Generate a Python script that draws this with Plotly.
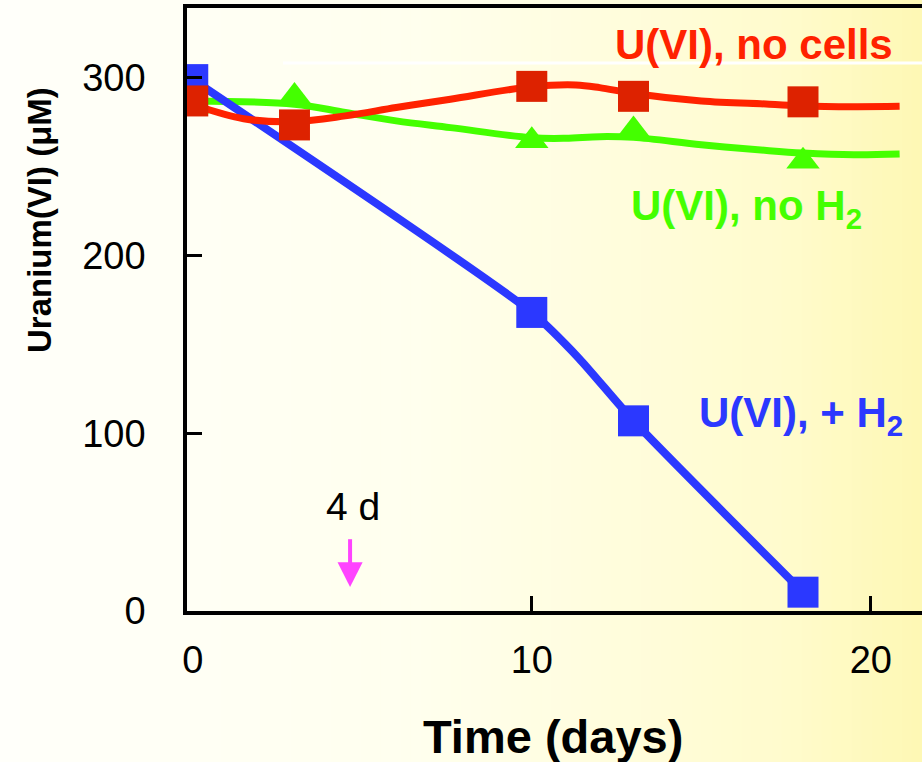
import plotly.graph_objects as go

# ---------------- data ----------------
days_h2 = [0, 10, 13, 18]
u_h2 = [299, 168, 107, 10.6]

days_nocells = [0, 3, 10, 13, 18]
u_nocells = [287, 273.5, 295.2, 289.6, 286.5]

days_noh2 = [0, 3, 10, 13, 18]
u_noh2 = [284, 289.5, 264.6, 270.6, 253]

# fitted curves as drawn in the picture
fit_h2_x = [0, 10, 11.4, 13, 18]
fit_h2_y = [299, 168, 142, 107, 10.6]

fit_nocells_x = [0.12, 1.5, 3, 4.5, 6, 7.6, 10, 11.3, 12, 13, 15, 17, 18, 19.5, 20.85]
fit_nocells_y = [284.3, 277, 275.4, 278.6, 283.3, 288, 295, 296.0, 294.5, 291.2, 287, 285.2, 284.2, 283.8, 284.0]

fit_noh2_x = [0, 3, 4.5, 6, 7.6, 10, 11, 12, 13, 15, 17, 18, 19.5, 20.85]
fit_noh2_y = [287, 285.2, 280.5, 275.8, 272, 266.3, 266, 266.9, 266.5, 262.4, 259, 257.7, 256.7, 257.1]

x_ticks = [0, 10, 20]
x_tick_marks = [10, 20]
y_ticks = [0, 100, 200, 300]

FONT = "Liberation Sans, Arial, Helvetica, sans-serif"
RED_LINE = "#ff2200"
RED_MK = "#dd2200"
GREEN = "#44ff00"
BLUE = "#2b38ff"
MAGENTA = "#ff44ff"

W, H = 922, 762
ML, MR, MT, MB = 187, 0, 8, 151
PW, PH = W - ML - MR, H - MT - MB

fig = go.Figure()

# green (bottom)
fig.add_trace(go.Scatter(x=fit_noh2_x, y=fit_noh2_y, mode="lines",
                         line=dict(color=GREEN, width=7, shape="spline", smoothing=1),
                         hoverinfo="skip", showlegend=False))
fig.add_trace(go.Scatter(x=days_noh2, y=u_noh2, mode="markers",
                         marker=dict(symbol="triangle-up", size=29, color=GREEN, line=dict(width=0)),
                         showlegend=False))
# blue
fig.add_trace(go.Scatter(x=fit_h2_x, y=fit_h2_y, mode="lines",
                         line=dict(color=BLUE, width=8, shape="spline", smoothing=0.6),
                         hoverinfo="skip", showlegend=False))
fig.add_trace(go.Scatter(x=days_h2, y=u_h2, mode="markers",
                         marker=dict(symbol="square", size=31, color=BLUE, line=dict(width=0)),
                         showlegend=False))
# red (top)
fig.add_trace(go.Scatter(x=fit_nocells_x, y=fit_nocells_y, mode="lines",
                         line=dict(color=RED_LINE, width=7, shape="spline", smoothing=1),
                         hoverinfo="skip", showlegend=False))
fig.add_trace(go.Scatter(x=days_nocells, y=u_nocells, mode="markers",
                         marker=dict(symbol="square", size=31, color=RED_MK, line=dict(width=0)),
                         showlegend=False))

# background gradient (horizontal, white -> pale yellow)
stops = [(0.0, (255, 255, 250)), (0.45, (255, 255, 238)), (0.65, (255, 253, 222)),
         (0.85, (255, 251, 205)), (1.0, (254, 248, 180))]

def col_at(t):
    for (t0, c0), (t1, c1) in zip(stops[:-1], stops[1:]):
        if t <= t1:
            f = (t - t0) / (t1 - t0)
            return "rgb(%d,%d,%d)" % tuple(round(a + (b - a) * f) for a, b in zip(c0, c1))
    return "rgb(%d,%d,%d)" % stops[-1][1]

shapes = []
N = 92
for i in range(N):
    px0 = i * W / N
    px1 = (i + 1) * W / N + 1
    shapes.append(dict(type="rect", xref="paper", yref="paper",
                       x0=(px0 - ML) / PW, x1=(px1 - ML) / PW,
                       y0=-MB / PH - 0.01, y1=1 + MT / PH + 0.01,
                       fillcolor=col_at((i + 0.5) / N), line=dict(width=0), layer="below"))
# faint white line in the picture
shapes.append(dict(type="line", xref="x", yref="y", x0=2.66, x1=22, y0=308.4, y1=308.4,
                   line=dict(color="white", width=3), layer="below"))
# magenta arrow at 4 d
shapes.append(dict(type="line", xref="x", yref="y", x0=4.64, x1=4.64, y0=40.4, y1=27,
                   line=dict(color=MAGENTA, width=4)))
shapes.append(dict(type="path", xref="x", yref="y",
                   path="M 4.27 27.5 L 5.01 27.5 L 4.64 13.5 Z",
                   fillcolor=MAGENTA, line=dict(width=0)))

annotations = [
    dict(x=16.56, y=319, xref="x", yref="y", text="U(VI), no cells", showarrow=False,
         font=dict(family=FONT, size=42, color=RED_LINE, weight="bold"), xanchor="center", yanchor="middle"),
    dict(x=16.33, y=226.5, xref="x", yref="y", text="U(VI), no H<sub>2</sub>", showarrow=False,
         font=dict(family=FONT, size=42, color=GREEN, weight="bold"), xanchor="center", yanchor="middle"),
    dict(x=17.95, y=110, xref="x", yref="y", text="U(VI), + H<sub>2</sub>", showarrow=False,
         font=dict(family=FONT, size=42, color=BLUE, weight="bold"), xanchor="center", yanchor="middle"),
    dict(x=4.74, y=59, xref="x", yref="y", text="4 d", showarrow=False,
         font=dict(family=FONT, size=39, color="black"), xanchor="center", yanchor="middle"),
    dict(x=(553 - ML) / PW, y=(611 - 736) / PH, xref="paper", yref="paper", text="Time (days)",
         showarrow=False, font=dict(family=FONT, size=47, color="black", weight="bold"),
         xanchor="center", yanchor="middle"),
    dict(x=(40 - ML) / PW, y=(611 - 220) / PH, xref="paper", yref="paper", text="Uranium(VI) (μM)",
         showarrow=False, textangle=-90, font=dict(family=FONT, size=33, color="black", weight="bold"),
         xanchor="center", yanchor="middle"),
]

fig.update_layout(
    width=W, height=H,
    margin=dict(l=ML, r=MR, t=MT, b=MB, pad=0),
    paper_bgcolor="white", plot_bgcolor="rgba(0,0,0,0)",
    shapes=shapes, annotations=annotations, showlegend=False,
    font=dict(family=FONT, color="black"),
)
fig.update_xaxes(range=[-0.17, 21.51], tickvals=x_ticks, ticktext=[str(v) for v in x_ticks],
                 ticks="", showline=True, linewidth=3.5, linecolor="black", mirror=True,
                 minor=dict(tickvals=x_tick_marks, ticks="inside", ticklen=15, tickwidth=2.5,
                            tickcolor="black", showgrid=False),
                 showgrid=False, zeroline=False, tickfont=dict(family=FONT, size=38, color="black"),
                 ticklabelstandoff=13)
fig.update_yaxes(range=[0, 339.3], tickvals=y_ticks, ticktext=[str(v) for v in y_ticks],
                 ticks="inside", ticklen=15, tickwidth=2.5, tickcolor="black",
                 showline=True, linewidth=3.5, linecolor="black",
                 showgrid=False, zeroline=False, tickfont=dict(family=FONT, size=38, color="black"),
                 ticklabelstandoff=30)

fig.write_html("out.html")
